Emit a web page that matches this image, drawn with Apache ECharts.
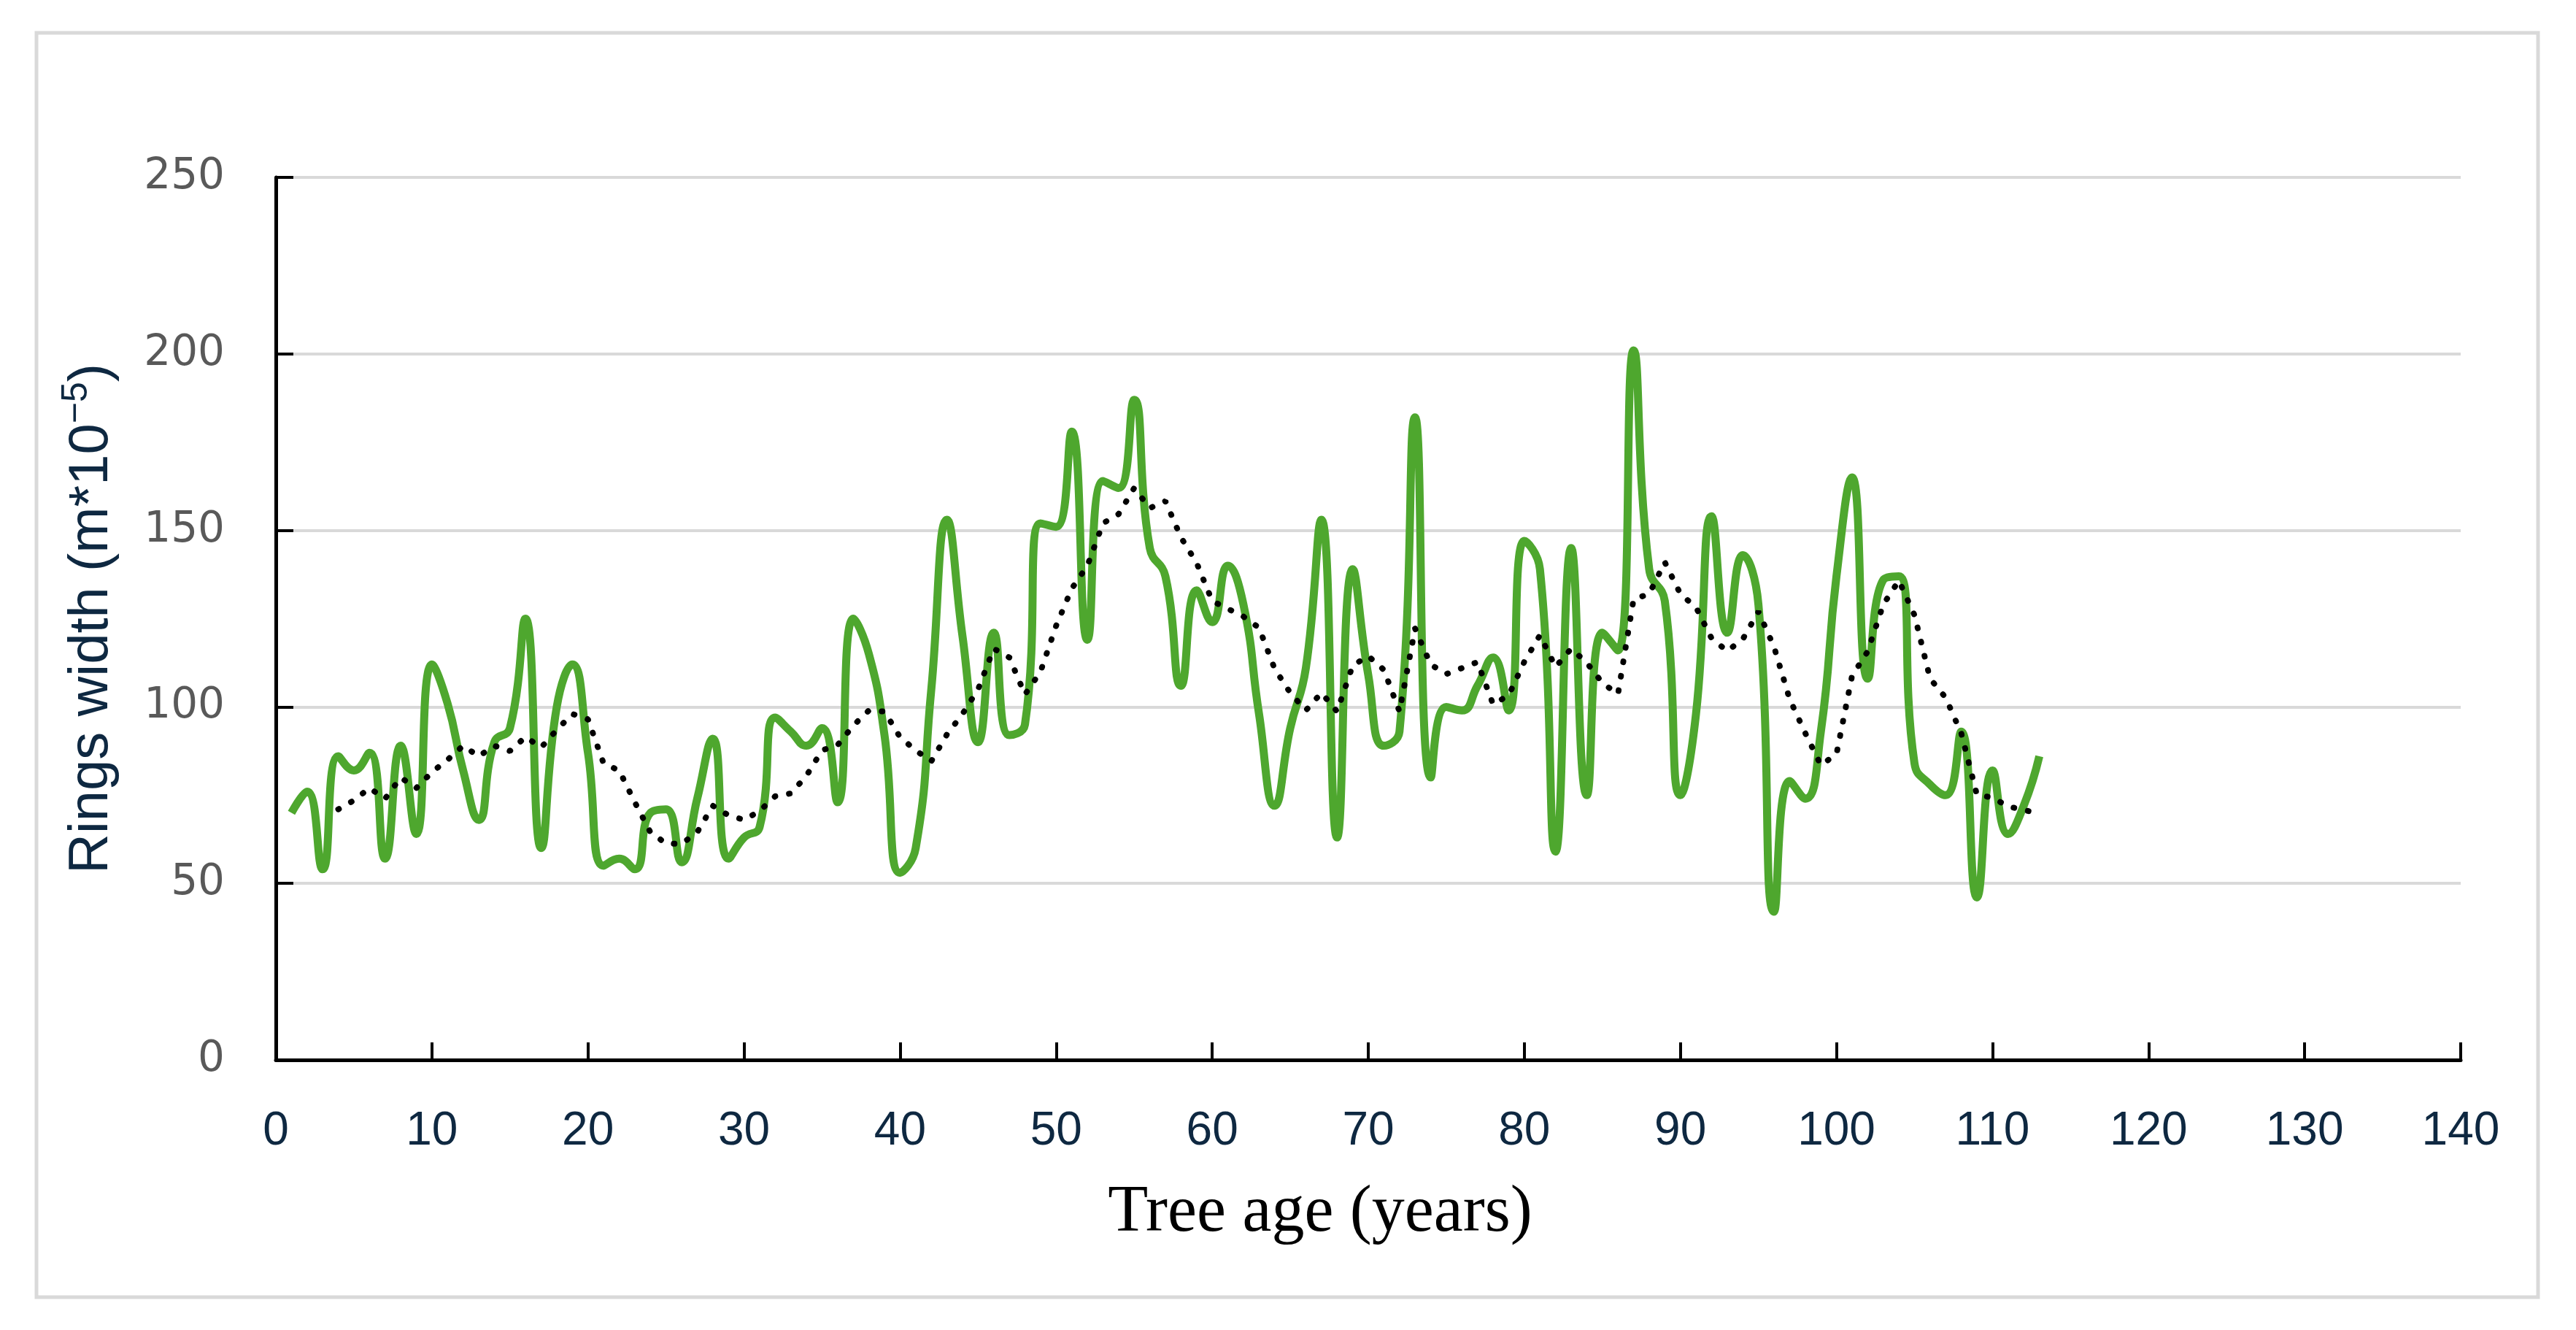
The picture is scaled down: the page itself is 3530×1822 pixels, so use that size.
<!DOCTYPE html>
<html>
<head>
<meta charset="utf-8">
<script src="https://cdn.jsdelivr.net/npm/echarts@6/dist/echarts.min.js"></script>
<style>
  html, body { margin: 0; padding: 0; background: #ffffff; }
  #chart { width: 3530px; height: 1822px; }
</style>
</head>
<body>
<div id="chart"></div>
<script>
// Tree age (years) for each measured ring
const ages = [1,2,3,4,5,6,7,8,9,10,11,12,13,14,15,16,17,18,19,20,
  21,22,23,24,25,26,27,28,29,30,31,32,33,34,35,36,37,38,39,40,
  41,42,43,44,45,46,47,48,49,50,51,52,53,54,55,56,57,58,59,60,
  61,62,63,64,65,66,67,68,69,70,71,72,73,74,75,76,77,78,79,80,
  81,82,83,84,85,86,87,88,89,90,91,92,93,94,95,96,97,98,99,100,
  101,102,103,104,105,106,107,108,109,110,111,112,113];

// Ring width (m*10^-5)
const ringWidth = [70,76,54,86,82,87,57,89,64,112,
  101,82,68,90,94,125,60,100,112,87,
  55,57,54,70,71,56,74,91,57,63,
  66,97,93,89,94,73,125,115,92,53,
  60,105,153,120,90,121,92,95,152,151,
  178,119,164,162,187,145,137,106,133,124,
  140,129,98,72,94,111,153,63,139,109,
  89,93,182,80,100,99,106,114,99,147,
  139,59,145,75,121,116,201,139,130,75,
  98,154,121,143,129,42,79,74,93,137,
  165,108,136,137,84,78,75,93,46,82,
  64,72,86];

// Moving-average trend (dotted black), ages 4..113
const trendAges = ages.slice(3);
const movingAvg = [71,73.5,77,74,80,77,81.5,
  85,89,86,89,87.5,91.5,88.5,93.5,98,96.5,
  84,82,73,64.5,61.3,61.2,64.5,72,69.3,68,
  70.5,74.7,75.5,80.5,87.7,89.2,94.7,99,98.7,91.4,
  87.7,84.6,92.2,98,105,116.5,114,103.5,110,123,
  133.5,140,152,154.6,162,156.3,158.3,148,140.8,130,
  127.8,125.6,122.4,110.8,104,99,104,98.7,111.7,114.4,
  110.5,98.7,122.2,112,109.3,111,112.7,100.7,103.3,112.8,
  120.3,111.3,116.5,112.5,106.8,103.6,130.5,132,141,132,
  128.2,119.4,115.8,119.2,127,117,102.2,92.6,83.5,86.6,
  108.8,115.7,129,135.8,126,108,102.6,92.5,75.1,74.3,
  71.8,70.8,69.8];

// Axis ticks
const xTicks = { min: 0, max: 140, step: 10 };
const yTicks = { min: 0, max: 250, step: 50 };

const xAxisTitle = 'Tree age (years)';
const yAxisTitle = '{n|Rings width (m*10}{s|\u22125}{n|)}';

const chart = echarts.init(document.getElementById('chart'), null, { renderer: 'canvas' });

const option = {
  animation: false,
  backgroundColor: '#ffffff',
  grid: { left: 378, right: 158, top: 243, bottom: 370, containLabel: false },
  xAxis: {
    type: 'value',
    min: xTicks.min, max: xTicks.max, interval: xTicks.step,
    axisLine: { show: true, onZero: false, lineStyle: { color: '#000000', width: 5 } },
    axisTick: { show: true, inside: true, length: 24, lineStyle: { color: '#000000', width: 4 } },
    axisLabel: { margin: 66, fontSize: 64, fontFamily: 'Liberation Sans, Arial, sans-serif', color: '#0E2841' },
    splitLine: { show: false },
    name: xAxisTitle,
    nameLocation: 'middle',
    nameGap: 165,
    nameTextStyle: { fontFamily: 'Liberation Serif, serif', fontSize: 90, color: '#000000', padding: [0, 132, 0, 0] }
  },
  yAxis: {
    type: 'value',
    min: yTicks.min, max: yTicks.max, interval: yTicks.step,
    axisLine: { show: true, lineStyle: { color: '#000000', width: 5 } },
    axisTick: { show: true, inside: true, length: 24, lineStyle: { color: '#000000', width: 4 } },
    axisLabel: { margin: 70, fontSize: 58, fontFamily: 'DejaVu Sans, sans-serif', color: '#595959' },
    splitLine: { show: true, lineStyle: { color: '#d9d9d9', width: 4 } },
    name: yAxisTitle,
    nameLocation: 'middle',
    nameGap: 206,
    nameTextStyle: {
      fontFamily: 'Liberation Sans, Arial, sans-serif', fontSize: 76, color: '#0E2841',
      rich: {
        n: { fontFamily: 'Liberation Sans, Arial, sans-serif', fontSize: 76, color: '#0E2841', lineHeight: 92 },
        s: { fontFamily: 'Liberation Sans, Arial, sans-serif', fontSize: 50, color: '#0E2841', lineHeight: 92, verticalAlign: 'top', padding: [0, 0, 30, 0] }
      }
    }
  },
  series: [
    {
      type: 'line',
      data: ages.map((a, i) => [a, ringWidth[i]]),
      smooth: 0.5,
      symbol: 'none',
      lineStyle: { color: '#4EA72E', width: 11 },
      z: 2
    },
    {
      type: 'line',
      data: trendAges.map((a, i) => [a, movingAvg[i]]),
      smooth: false,
      symbol: 'none',
      lineStyle: { color: '#000000', width: 8, type: [1, 19], cap: 'round' },
      z: 3
    }
  ],
  graphic: [
    {
      type: 'rect',
      silent: true,
      z: -10,
      shape: { x: 50, y: 45, width: 3428, height: 1732 },
      style: { fill: 'none', stroke: '#d9d9d9', lineWidth: 5 }
    }
  ]
};

chart.setOption(option);
</script>
</body>
</html>
